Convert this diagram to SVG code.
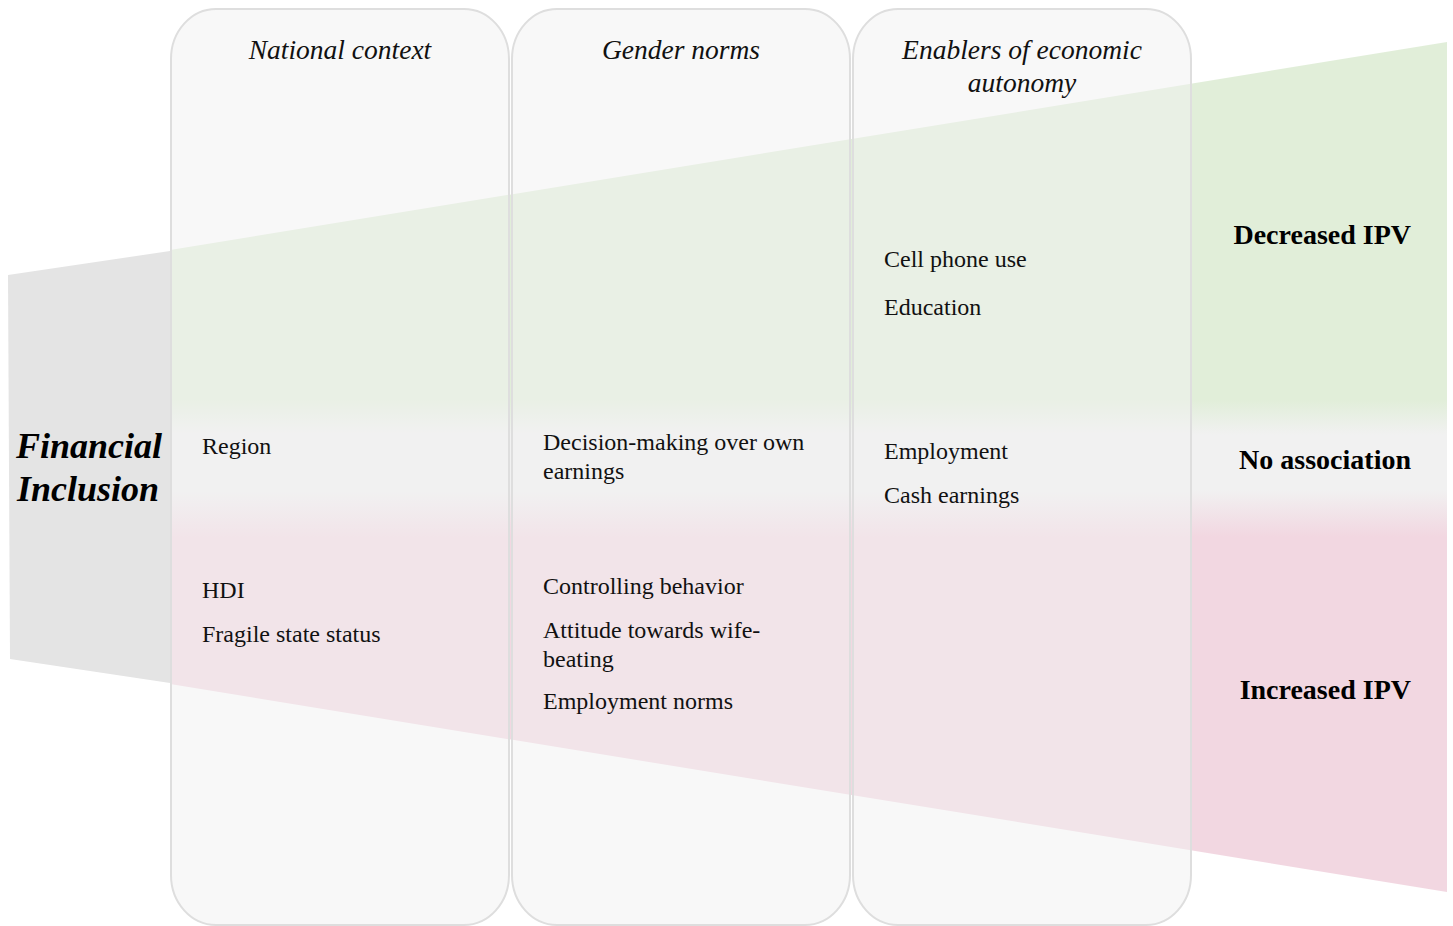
<svg xmlns="http://www.w3.org/2000/svg" width="1453" height="926" viewBox="0 0 1453 926">
  <defs>
    <linearGradient id="bandFill" gradientUnits="userSpaceOnUse" x1="0" y1="42" x2="0" y2="892">
      <stop offset="0" stop-color="#e1eed9"/>
      <stop offset="0.421" stop-color="#e1eed9"/>
      <stop offset="0.462" stop-color="#f1f1f1"/>
      <stop offset="0.527" stop-color="#f1f1f1"/>
      <stop offset="0.582" stop-color="#f2d7e1"/>
      <stop offset="1" stop-color="#f2d7e1"/>
    </linearGradient>
    <style>
      .col { fill: #f2f2f2; fill-opacity: 0.5; stroke: #dedede; stroke-width: 2; }
      .head { font-family: "Liberation Serif", "Times New Roman", serif; font-style: italic; font-size: 27.5px; fill: #111; text-anchor: middle; }
      .item { font-family: "Liberation Serif", "Times New Roman", serif; font-size: 24px; fill: #111; }
      .result { font-family: "Liberation Serif", "Times New Roman", serif; font-weight: bold; font-size: 28px; fill: #000; text-anchor: end; }
      .source { font-family: "Liberation Serif", "Times New Roman", serif; font-weight: bold; font-style: italic; font-size: 36px; fill: #000; text-anchor: middle; }
    </style>
  </defs>

  <rect width="1453" height="926" fill="#ffffff"/>

  <!-- outcome band widening to the right -->
  <g id="outcome-band">
    <polygon points="170,250 1447,42 1447,892 170,684" fill="url(#bandFill)"/>
  </g>

  <!-- source block -->
  <g id="financial-inclusion">
    <polygon points="8,275 170,251 170,683 10,659" fill="#e4e4e4"/>
    <text class="source" x="89" y="458">Financial</text>
    <text class="source" x="88" y="501">Inclusion</text>
  </g>

  <!-- factor columns -->
  <g id="national-context">
    <rect class="col" x="171" y="9" width="338" height="916" rx="45" ry="50"/>
    <text class="head" x="340" y="59">National context</text>
    <text class="item" x="202" y="454">Region</text>
    <text class="item" x="202" y="598">HDI</text>
    <text class="item" x="202" y="642">Fragile state status</text>
  </g>

  <g id="gender-norms">
    <rect class="col" x="512" y="9" width="338" height="916" rx="45" ry="50"/>
    <text class="head" x="681" y="59">Gender norms</text>
    <text class="item" x="543" y="450">Decision-making over own</text>
    <text class="item" x="543" y="479">earnings</text>
    <text class="item" x="543" y="594">Controlling behavior</text>
    <text class="item" x="543" y="638">Attitude towards wife-</text>
    <text class="item" x="543" y="667">beating</text>
    <text class="item" x="543" y="709">Employment norms</text>
  </g>

  <g id="economic-autonomy">
    <rect class="col" x="853" y="9" width="338" height="916" rx="45" ry="50"/>
    <text class="head" x="1022" y="59">Enablers of economic</text>
    <text class="head" x="1022" y="92">autonomy</text>
    <text class="item" x="884" y="267">Cell phone use</text>
    <text class="item" x="884" y="315">Education</text>
    <text class="item" x="884" y="459">Employment</text>
    <text class="item" x="884" y="503">Cash earnings</text>
  </g>

  <!-- outcome labels -->
  <g id="outcomes">
    <text class="result" x="1411" y="244">Decreased IPV</text>
    <text class="result" x="1411" y="469">No association</text>
    <text class="result" x="1411" y="699">Increased IPV</text>
  </g>
</svg>
